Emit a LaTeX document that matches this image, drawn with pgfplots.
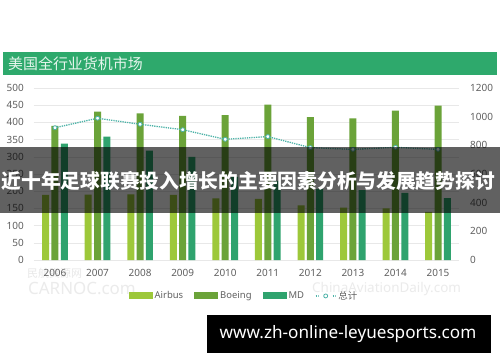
\documentclass[border=0pt]{standalone}
\usepackage{fontspec}
\usepackage{pgfplots}
\pgfplotsset{compat=1.18}
\setmainfont{Noto Sans}
\newfontfamily\cjk{Noto Sans CJK SC}
\definecolor{airbus}{HTML}{9DC83A}
\definecolor{boeing}{HTML}{6BA339}
\definecolor{md}{HTML}{2FA36E}
\definecolor{tot}{HTML}{4DB3A8}
\definecolor{titlegreen}{HTML}{2EA96C}
\definecolor{tickc}{HTML}{606060}
\begin{document}
\begin{tikzpicture}[x=1bp,y=1bp]
\path[use as bounding box, fill=white] (0,0) rectangle (500,362);
% watermarks
\node[anchor=west, inner sep=0, text=gray!18] at (27,89) {\cjk\fontsize{11}{13}\selectfont 民航资源网};
\node[anchor=west, inner sep=0, text=gray!16] at (28,74) {\bfseries\fontsize{17}{19}\selectfont CARNOC.com};
\node[anchor=west, inner sep=0, text=gray!16] at (312,73) {\bfseries\fontsize{13.5}{15}\selectfont ChinaAviationDaily.com};
\begin{axis}[
  at={(33.7bp,102bp)}, anchor=south west, scale only axis,
  width=425.6bp, height=172bp,
  xmin=-0.5, xmax=9.5, ymin=0, ymax=500,
  ybar, bar width=7bp,
  xtick={0,...,9},
  xticklabels={2006,2007,2008,2009,2010,2011,2012,2013,2014,2015},
  ytick={0,50,...,500},
  ymajorgrids, grid style={draw=gray!18, line width=0.6pt},
  axis line style={draw=none}, major tick length=0pt,
  tick label style={font=\fontsize{10}{12}\selectfont, text=tickc},
  /pgf/number format/assume math mode=true,
  /pgf/number format/1000 sep={},
  yticklabel style={xshift=-6.4bp},
  xticklabel style={yshift=-6bp},
  legend style={at={(0.494,-0.209)}, anchor=center, draw=none, fill=none,
    font=\fontsize{9.5}{11}\selectfont, text=tickc,
    /tikz/every even column/.append style={column sep=9bp}},
  legend columns=4,
  legend cell align=left,
]
\addplot[fill=airbus, draw=none, bar shift=-9.3bp,
  legend image code/.code={\fill[airbus] (0bp,-3.5bp) rectangle (24bp,3.5bp);}]
  coordinates {(0,189) (1,190) (2,191) (3,189) (4,179) (5,178) (6,159) (7,152) (8,150) (9,140)};
\addlegendentry{Airbus}
\addplot[fill=boeing, draw=none, bar shift=0bp,
  legend image code/.code={\fill[boeing] (0bp,-3.5bp) rectangle (24bp,3.5bp);}]
  coordinates {(0,390) (1,431) (2,426) (3,419) (4,421) (5,452) (6,415) (7,412) (8,434) (9,449)};
\addlegendentry{Boeing}
\addplot[fill=md, draw=none, bar shift=9.3bp,
  legend image code/.code={\fill[md] (0bp,-3.5bp) rectangle (24bp,3.5bp);}]
  coordinates {(0,338) (1,359) (2,318) (3,300) (4,242) (5,230) (6,207) (7,203) (8,195) (9,180)};
\addlegendentry{MD}
\addlegendimage{line legend, tot, densely dotted, line width=1.3pt, mark=*, mark size=2pt,
  mark options={solid, fill=white, draw=tot, line width=0.8pt}}
\addlegendentry{\cjk 总计}
\end{axis}
\begin{axis}[
  at={(33.7bp,102bp)}, anchor=south west, scale only axis,
  width=425.6bp, height=172bp,
  xmin=-0.5, xmax=9.5, ymin=0, ymax=1200,
  axis y line*=right, hide x axis,
  axis line style={draw=none}, major tick length=0pt,
  ytick={0,200,...,1200},
  tick label style={font=\fontsize{10}{12}\selectfont, text=tickc},
  /pgf/number format/assume math mode=true,
  /pgf/number format/1000 sep={},
  yticklabel style={xshift=7.4bp},
]
\addplot[tot, densely dotted, line width=1.3pt, mark=*, mark size=2pt,
  mark options={solid, fill=white, draw=tot, line width=0.8pt}]
  coordinates {(0,923) (1,989) (2,947) (3,909) (4,842) (5,861) (6,784) (7,772) (8,786) (9,772)};
\end{axis}
% title bar
\fill[titlegreen] (3,287) rectangle (497,310);
\node[anchor=west, inner sep=0, text=white!88!titlegreen] at (8,298.5) {\cjk\fontsize{15}{17}\selectfont 美国全行业货机市场};
% overlay band
\fill[black, opacity=0.62] (0,149) rectangle (500,215);
\node[anchor=west, inner sep=0, text=white] at (1.5,181) {\cjk\bfseries\fontsize{19.8}{22}\selectfont 近十年足球联赛投入增长的主要因素分析与发展趋势探讨};
% bottom black box
\fill[black] (207,9) rectangle (491,47);
\node[anchor=center, inner sep=0, text=white] at (348,28) {\bfseries\fontsize{17.2}{19}\selectfont www.zh-online-leyuesports.com};
\end{tikzpicture}
\end{document}
